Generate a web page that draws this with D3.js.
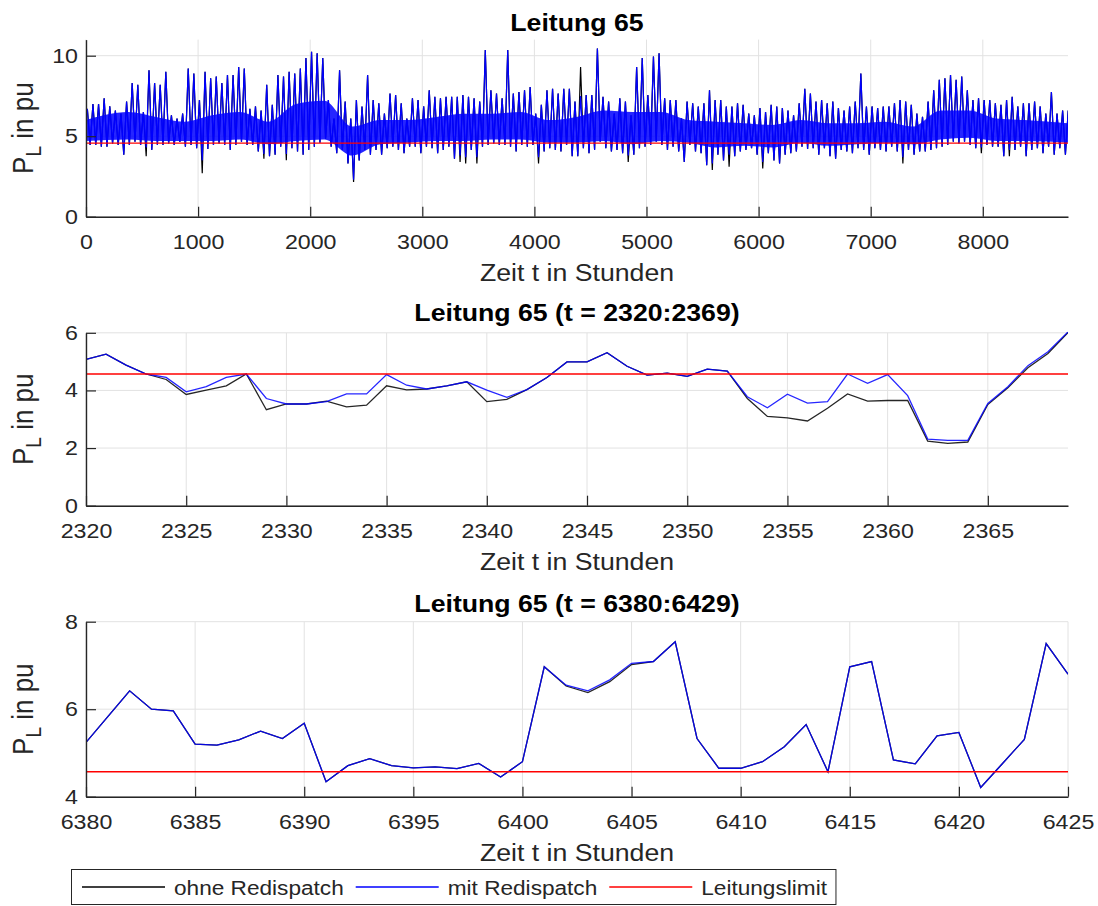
<!DOCTYPE html>
<html>
<head>
<meta charset="utf-8">
<script src="https://cdn.jsdelivr.net/npm/d3@7"></script>
<style>
  body { margin: 0; background: #fff; }
  svg { display: block; font-family: "Liberation Sans", Arial, Helvetica, sans-serif; }
</style>
</head>
<body>
<svg id="chart" width="1098" height="906"></svg>
<script>
// ---------------------------------------------------------------
// Line 65 loading, whole year: upper / lower envelope per 50 h block
// ---------------------------------------------------------------
const yearBlockStart = d3.range(0, 8760, 50);
const yearMax = [
  6.7, 7.0, 7.0, 7.35, 6.85, 6.6, 6.4, 7.15, 8.3, 8.2,
  6.5, 9.1, 8.3, 8.2, 9.0, 6.3, 6.1, 6.4, 9.2, 8.9,
  7.25, 9.0, 8.6, 8.7, 8.3, 8.8, 8.8, 9.3, 9.2, 6.7,
  6.85, 6.6, 8.2, 6.95, 8.8, 8.7, 9.0, 8.9, 9.2, 9.85,
  10.25, 10.15, 9.85, 7.25, 6.1, 9.1, 7.15, 6.1, 7.25, 6.85,
  8.8, 7.25, 7.05, 6.4, 7.65, 7.55, 7.05, 6.1, 7.35, 7.25,
  6.85, 7.85, 7.45, 7.35, 7.45, 7.45, 7.45, 7.55, 7.45, 7.35,
  7.15, 10.35, 7.85, 7.65, 7.35, 10.35, 7.65, 7.75, 7.85, 8.05,
  6.4, 6.95, 7.85, 7.95, 7.65, 7.95, 7.95, 7.15, 7.5, 7.55,
  7.55, 10.45, 7.45, 7.15, 6.4, 7.35, 7.15, 6.3, 9.3, 9.85,
  7.55, 9.95, 10.15, 7.35, 7.25, 7.25, 6.1, 7.15, 7.05, 6.85,
  7.05, 7.85, 7.25, 7.25, 6.85, 6.85, 7.05, 6.95, 6.4, 6.3,
  6.75, 6.5, 6.95, 6.85, 6.75, 6.6, 6.3, 7.05, 7.95, 7.65,
  7.15, 7.25, 7.05, 7.15, 6.75, 6.6, 6.85, 7.15, 8.9, 6.85,
  6.85, 6.75, 6.85, 6.85, 7.05, 7.25, 7.15, 6.95, 6.4, 6.2,
  7.15, 7.85, 8.5, 8.6, 8.8, 8.5, 8.7, 7.85, 7.25, 7.35,
  7.25, 7.25, 7.05, 6.95, 7.25, 7.45, 6.85, 7.05, 7.05, 7.15,
  6.85, 6.4, 7.75, 6.4, 6.6, 6.6
];
const yearMin = [
  4.45, 4.45, 4.35, 4.35, 4.55, 4.45, 3.85, 4.45, 4.65, 4.45,
  4.3, 4.15, 4.45, 4.45, 4.55, 4.45, 4.65, 4.35, 4.45, 4.25,
  3.5, 4.2, 4.45, 4.55, 4.45, 4.15, 4.45, 4.65, 4.45, 4.45,
  4.05, 3.9, 3.75, 3.85, 4.35, 3.9, 4.25, 4.05, 3.85, 4.15,
  4.35, 4.6, 4.85, 4.35, 3.95, 4.15, 3.3, 2.3, 3.5, 4.15,
  3.85, 4.15, 3.85, 4.25, 4.35, 4.15, 3.95, 4.35, 4.35, 3.95,
  4.35, 4.25, 3.95, 4.15, 4.35, 3.6, 3.8, 3.7, 4.15, 3.7,
  4.35, 4.45, 4.55, 4.45, 4.45, 4.35, 4.05, 4.45, 4.35, 4.45,
  3.7, 4.05, 4.25, 4.15, 4.05, 4.45, 3.75, 3.75, 4.25, 3.95,
  4.15, 4.65, 4.25, 4.05, 4.15, 3.95, 3.8, 3.85, 4.25, 4.35,
  4.45, 4.65, 4.45, 4.15, 4.35, 4.05, 3.4, 4.45, 4.05, 3.95,
  3.2, 3.3, 3.85, 3.5, 3.85, 3.75, 4.05, 4.15, 4.25, 3.85,
  3.4, 3.95, 3.5, 3.3, 3.85, 3.95, 4.05, 4.35, 4.2, 4.25,
  3.85, 4.25, 3.75, 3.6, 4.15, 4.05, 3.95, 4.25, 4.15, 3.85,
  4.25, 4.15, 4.05, 4.35, 4.05, 3.7, 4.15, 3.85, 4.05, 4.05,
  4.15, 4.25, 4.35, 4.45, 4.65, 4.55, 4.65, 4.45, 4.25, 4.3,
  4.45, 4.35, 4.35, 3.75, 4.15, 4.15, 4.35, 3.75, 4.15, 4.25,
  3.95, 4.35, 3.85, 4.25, 3.85, 3.9
];
// typical (dense) range of the yearly loading per 250 h block (last block 8500..8760)
const coreBlockStart = d3.range(0, 8750, 250);
const coreLow = [
  4.7, 4.8, 4.7, 4.7, 4.7, 4.8, 4.5, 4.7, 4.8, 3.8,
  4.5, 4.6, 4.7, 4.7, 4.8, 4.8, 4.6, 4.6, 4.7, 4.5,
  4.7, 4.6, 4.3, 4.4, 4.3, 4.6, 4.4, 4.5, 4.6, 4.5,
  4.8, 4.9, 4.7, 4.7, 4.6
];
const coreHigh = [
  6.0, 6.5, 6.2, 5.9, 6.3, 6.5, 5.9, 7.0, 7.2, 5.6,
  6.0, 6.0, 6.2, 6.4, 6.4, 6.5, 6.0, 6.2, 6.6, 6.5,
  6.5, 6.0, 5.9, 5.8, 5.7, 6.0, 5.8, 5.8, 5.9, 5.6,
  6.6, 6.6, 6.1, 6.0, 5.8
];
// hours where the flow without redispatch leaves the envelope above
const ohneDipHour  = [540, 1010, 1550, 1790, 2365, 3310, 3370, 3470, 4015, 4826, 5567, 5740, 6040, 7256, 7960, 8210];
const ohneDipValue = [3.75, 2.7, 3.6, 3.5, 2.16, 3.4, 3.3, 3.3, 3.3, 3.4, 2.9, 3.1, 3.0, 3.3, 3.95, 3.75];
const ohneSpikeHour  = [4430];
const ohneSpikeValue = [9.3];

// thermal limit of line 65
const limitValue = 4.57;

// ---------------------------------------------------------------
// Detail window t = 2320:2369
// ---------------------------------------------------------------
const hoursA = d3.range(2320, 2370);
const mitA = [
  5.08, 5.26, 4.88, 4.57, 4.45, 3.95, 4.13, 4.45, 4.57, 3.72,
  3.53, 3.53, 3.61, 3.88, 3.88, 4.55, 4.18, 4.05, 4.16, 4.30,
  4.01, 3.76, 4.03, 4.45, 4.99, 4.99, 5.31, 4.84, 4.53, 4.60,
  4.49, 4.74, 4.67, 3.78, 3.40, 3.87, 3.56, 3.61, 4.57, 4.25,
  4.55, 3.82, 2.31, 2.27, 2.27, 3.55, 4.13, 4.86, 5.34, 6.03
];
const ohneA = [
  5.08, 5.26, 4.88, 4.57, 4.38, 3.86, 4.01, 4.16, 4.57, 3.33,
  3.53, 3.53, 3.63, 3.43, 3.49, 4.16, 4.02, 4.05, 4.16, 4.30,
  3.61, 3.69, 4.03, 4.45, 4.99, 4.99, 5.31, 4.84, 4.53, 4.60,
  4.49, 4.74, 4.67, 3.72, 3.10, 3.05, 2.94, 3.38, 3.88, 3.63,
  3.65, 3.65, 2.24, 2.16, 2.21, 3.51, 4.09, 4.79, 5.28, 6.01
];

// ---------------------------------------------------------------
// Detail window t = 6380:6429 (axis shows 6380..6425)
// ---------------------------------------------------------------
const hoursB = d3.range(6380, 6426);
const mitB = [
  5.24, 5.83, 6.42, 6.00, 5.96, 5.20, 5.18, 5.30, 5.50, 5.33,
  5.68, 4.34, 4.71, 4.87, 4.71, 4.66, 4.68, 4.64, 4.76, 4.45,
  4.80, 6.97, 6.55, 6.42, 6.67, 7.05, 7.09, 7.54, 5.33, 4.65,
  4.65, 4.80, 5.14, 5.65, 4.57, 6.97, 7.09, 4.84, 4.75, 5.39,
  5.47, 4.21, 4.76, 5.31, 7.50, 6.80
];
const ohneB = [
  5.24, 5.83, 6.42, 6.00, 5.96, 5.20, 5.18, 5.30, 5.50, 5.33,
  5.68, 4.34, 4.71, 4.87, 4.71, 4.66, 4.68, 4.64, 4.76, 4.45,
  4.80, 6.97, 6.53, 6.38, 6.63, 7.02, 7.09, 7.54, 5.33, 4.65,
  4.65, 4.80, 5.14, 5.65, 4.57, 6.97, 7.09, 4.84, 4.75, 5.39,
  5.47, 4.21, 4.76, 5.31, 7.50, 6.80
];

// tick labels
const xTicksYear = [0, 1000, 2000, 3000, 4000, 5000, 6000, 7000, 8000];
const yTicksYear = [0, 5, 10];
const xTicksA = [2320, 2325, 2330, 2335, 2340, 2345, 2350, 2355, 2360, 2365];
const yTicksA = [0, 2, 4, 6];
const xTicksB = [6380, 6385, 6390, 6395, 6400, 6405, 6410, 6415, 6420, 6425];
const yTicksB = [4, 6, 8];

const seriesNames = ["ohne Redispatch", "mit Redispatch", "Leitungslimit"];
const seriesColors = ["#000000", "#0000ff", "#ff0000"];

// ---------------------------------------------------------------
// layout
// ---------------------------------------------------------------
const svg = d3.select("#chart");
svg.append("rect").attr("width", 1098).attr("height", 906).attr("fill", "#fff");

const SX = 1.16;          // horizontal text stretch of the figure
const AX = "#262626";
const GRID = "#e2e2e2";
const plotLeft = 86, plotRight = 1068;

const panels = [
  { top: 39.6, bottom: 216.7, xDomain: [0, 8760], yDomain: [0, 11], titleY: 30.5,
    title: "Leitung 65", xTicks: xTicksYear, yTicks: yTicksYear },
  { top: 332.8, bottom: 505.7, xDomain: [2320, 2369], yDomain: [0, 6], titleY: 321,
    title: "Leitung 65 (t = 2320:2369)", xTicks: xTicksA, yTicks: yTicksA },
  { top: 621.7, bottom: 796.7, xDomain: [6380, 6425], yDomain: [4, 8], titleY: 611.5,
    title: "Leitung 65 (t = 6380:6429)", xTicks: xTicksB, yTicks: yTicksB }
];

function stretched(g, x, y) {
  return g.append("text").attr("transform", `translate(${x},${y}) scale(${SX},1)`);
}

panels.forEach((p, i) => {
  const x = d3.scaleLinear().domain(p.xDomain).range([plotLeft, plotRight]);
  const y = d3.scaleLinear().domain(p.yDomain).range([p.bottom, p.top]);
  p.x = x; p.y = y;
  const g = svg.append("g");
  p.g = g;

  // grid
  g.append("g").selectAll("line").data(p.xTicks).join("line")
    .attr("x1", d => x(d)).attr("x2", d => x(d))
    .attr("y1", p.top).attr("y2", p.bottom)
    .attr("stroke", GRID).attr("stroke-width", 1);
  g.append("g").selectAll("line").data(p.yTicks).join("line")
    .attr("x1", plotLeft).attr("x2", plotRight)
    .attr("y1", d => y(d)).attr("y2", d => y(d))
    .attr("stroke", GRID).attr("stroke-width", 1);

  // clip for data
  svg.append("clipPath").attr("id", "clip" + i)
    .append("rect").attr("x", plotLeft).attr("y", p.top - 1)
    .attr("width", plotRight - plotLeft).attr("height", p.bottom - p.top + 1);
  p.data = g.append("g").attr("clip-path", `url(#clip${i})`);
  p.axes = g.append("g");

  // title
  stretched(g, (plotLeft + plotRight) / 2, p.titleY)
    .attr("text-anchor", "middle").attr("font-size", 23).attr("font-weight", "bold")
    .attr("fill", "#000").text(p.title);

  // x label
  stretched(g, (plotLeft + plotRight) / 2, p.bottom + 64)
    .attr("text-anchor", "middle").attr("font-size", 23).attr("fill", AX)
    .text("Zeit t in Stunden");

  // y label with subscript
  const yl = g.append("text")
    .attr("transform", `translate(33,${(p.top + p.bottom) / 2}) scale(${SX},1) rotate(-90)`)
    .attr("text-anchor", "middle").attr("font-size", 26).attr("fill", AX);
  yl.append("tspan").text("P");
  yl.append("tspan").attr("font-size", 19).attr("dy", 7).text("L");
  yl.append("tspan").attr("dy", -7).text(" in pu");
});

// ---------------------------------------------------------------
// top panel: whole year
// ---------------------------------------------------------------
{
  const p = panels[0];
  const ohneMax = yearMax.slice();
  const ohneMin = yearMin.slice();
  ohneDipHour.forEach((h, k) => { ohneMin[Math.floor(h / 50)] = ohneDipValue[k]; });
  ohneSpikeHour.forEach((h, k) => { ohneMax[Math.floor(h / 50)] = ohneSpikeValue[k]; });

  const zigzag = (hi, lo) => {
    const pts = [];
    yearBlockStart.forEach((h, k) => {
      pts.push([h + 12, hi[k]]);
      pts.push([h + 37, lo[k]]);
    });
    return pts;
  };
  const line = d3.line().x(d => p.x(d[0])).y(d => p.y(d[1]));

  p.data.append("path").datum(zigzag(ohneMax, ohneMin))
    .attr("d", line).attr("fill", "none").attr("stroke", "#000").attr("stroke-width", 1.2);

  // dense core of the signal
  const last = coreBlockStart.length - 1;
  const coreX = (h, k) => k === 0 ? p.xDomain[0] : (k === last ? p.xDomain[1] : h + 125);
  const core = d3.area()
    .curve(d3.curveMonotoneX)
    .x((h, k) => p.x(coreX(h, k)))
    .y0((h, k) => p.y(coreLow[k]))
    .y1((h, k) => p.y(coreHigh[k]));
  p.data.append("path").datum(coreBlockStart).attr("d", core)
    .attr("fill", "#0000ff").attr("fill-opacity", 0.85);

  p.data.append("path").datum(zigzag(yearMax, yearMin))
    .attr("d", line).attr("fill", "none").attr("stroke", "#0000ff").attr("stroke-width", 1.2);

  p.data.append("line")
    .attr("x1", p.x(p.xDomain[0])).attr("x2", p.x(p.xDomain[1]))
    .attr("y1", p.y(limitValue)).attr("y2", p.y(limitValue))
    .attr("stroke", "#ff0000").attr("stroke-width", 1.4);
}

// ---------------------------------------------------------------
// detail panels
// ---------------------------------------------------------------
function drawDetail(p, hours, ohne, mit) {
  const line = d3.line().x((d, k) => p.x(hours[k])).y(d => p.y(d));
  p.data.append("path").datum(ohne).attr("d", line)
    .attr("fill", "none").attr("stroke", "#000").attr("stroke-width", 1.3).attr("stroke-opacity", 0.85);
  p.data.append("path").datum(mit).attr("d", line)
    .attr("fill", "none").attr("stroke", "#0000ff").attr("stroke-width", 1.3).attr("stroke-opacity", 0.85);
  p.data.append("line")
    .attr("x1", p.x(p.xDomain[0])).attr("x2", p.x(p.xDomain[1]))
    .attr("y1", p.y(limitValue)).attr("y2", p.y(limitValue))
    .attr("stroke", "#ff0000").attr("stroke-width", 1.4);
}
drawDetail(panels[1], hoursA, ohneA, mitA);
drawDetail(panels[2], hoursB, ohneB, mitB);

// ---------------------------------------------------------------
// axes (left and bottom only, ticks pointing inwards)
// ---------------------------------------------------------------
panels.forEach(p => {
  const xa = p.axes.append("g").attr("transform", `translate(0,${p.bottom})`)
    .call(d3.axisBottom(p.x).tickValues(p.xTicks).tickFormat(d3.format("d"))
      .tickSizeInner(-10).tickSizeOuter(0).tickPadding(18.3));
  const ya = p.axes.append("g").attr("transform", `translate(${plotLeft},0)`)
    .call(d3.axisLeft(p.y).tickValues(p.yTicks).tickFormat(d3.format("d"))
      .tickSizeInner(-10).tickSizeOuter(0).tickPadding(6.9));
  [xa, ya].forEach(a => {
    a.select(".domain").attr("stroke", AX).attr("stroke-width", 1.4);
    a.selectAll(".tick line").attr("stroke", AX).attr("stroke-width", 1.2);
    a.selectAll(".tick text").attr("fill", AX).attr("font-size", 20)
      .attr("font-family", "'Liberation Sans', Arial, Helvetica, sans-serif")
      .attr("transform", `scale(${SX},1)`);
  });
});

// ---------------------------------------------------------------
// legend
// ---------------------------------------------------------------
{
  const lg = svg.append("g");
  const box = lg.append("rect")
    .attr("x", 71.5).attr("y", 869.5).attr("height", 35)
    .attr("fill", "#fff").attr("stroke", AX).attr("stroke-width", 1);
  let cx = 82;
  const ly = 887;
  seriesNames.forEach((name, k) => {
    lg.append("line").attr("x1", cx).attr("x2", cx + 83).attr("y1", ly).attr("y2", ly)
      .attr("stroke", seriesColors[k]).attr("stroke-width", 1.4);
    const t = stretched(lg, cx + 92, 895).attr("font-size", 19.5).attr("fill", AX).text(name);
    const w = t.node().getComputedTextLength() * SX;
    cx = cx + 92 + w + (k < seriesNames.length - 1 ? 12 : 9);
  });
  box.attr("width", cx - 71.5);
}
</script>
</body>
</html>
